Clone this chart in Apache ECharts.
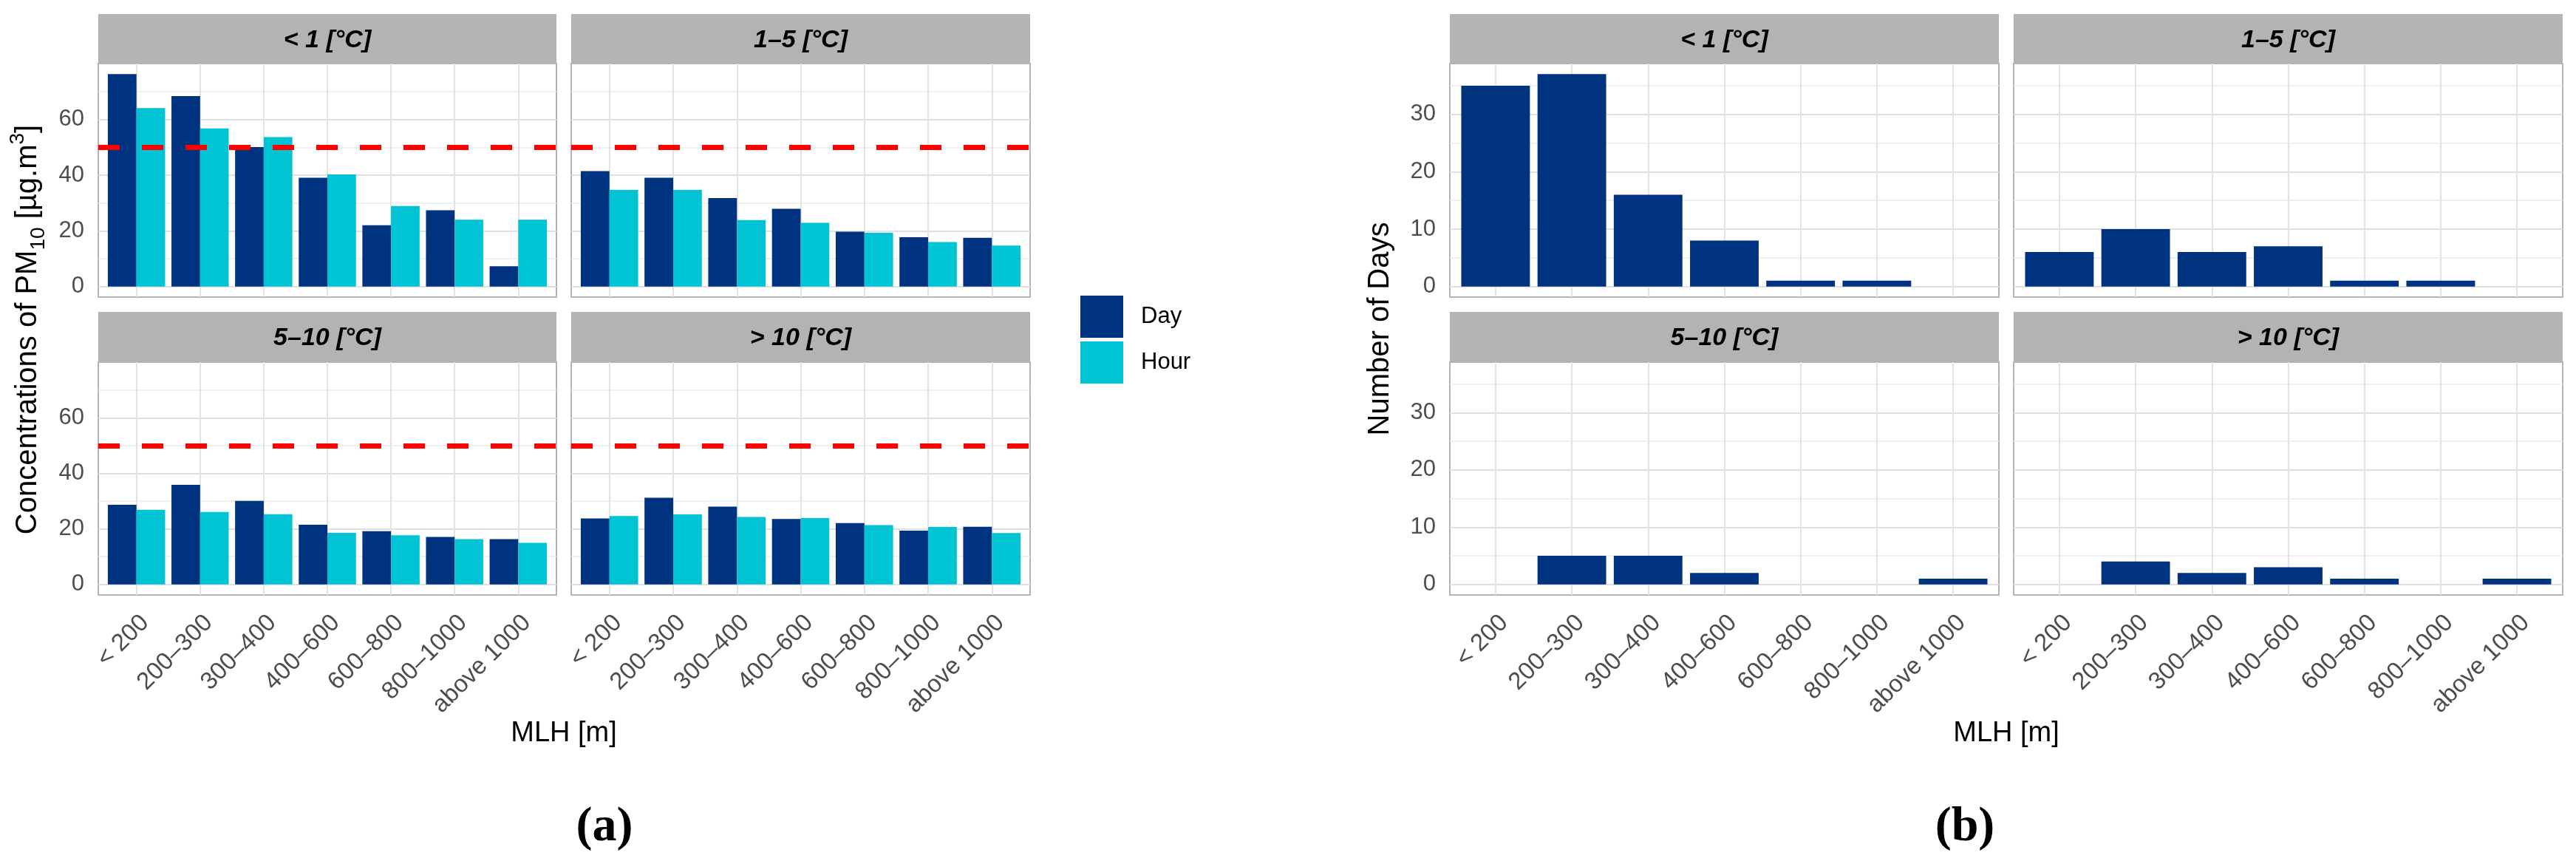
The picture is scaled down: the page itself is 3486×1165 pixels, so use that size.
<!DOCTYPE html>
<html><head><meta charset="utf-8">
<script src="https://cdn.jsdelivr.net/npm/echarts@6/dist/echarts.min.js"></script>
<style>html,body{margin:0;padding:0;background:#fff}#c{width:3486px;height:1165px}</style>
</head><body><div id="c"></div>
<script>
// ---------- data ----------
const mlhCategories = ['< 200', '200–300', '300–400', '400–600', '600–800', '800–1000', 'above 1000'];
const tempClasses = ['< 1 [°C]', '1–5 [°C]', '5–10 [°C]', '> 10 [°C]'];

// (a) PM10 concentrations [µg.m-3]
const pmDayLt1   = [76.3, 68.4, 50.1, 39.1, 22.0, 27.4, 7.3];
const pmHourLt1  = [64.1, 56.8, 53.7, 40.3, 28.9, 24.0, 24.0];
const pmDay1to5  = [41.5, 39.1, 31.8, 27.9, 19.7, 17.7, 17.5];
const pmHour1to5 = [34.7, 34.7, 23.9, 22.9, 19.3, 16.0, 14.7];
const pmDay5to10  = [28.7, 35.9, 30.1, 21.5, 19.2, 17.1, 16.3];
const pmHour5to10 = [26.9, 26.1, 25.3, 18.6, 17.7, 16.3, 15.0];
const pmDayGt10  = [23.8, 31.2, 28.0, 23.6, 22.1, 19.4, 20.8];
const pmHourGt10 = [24.6, 25.2, 24.3, 23.9, 21.4, 20.7, 18.5];
const pmLimit = 50;

// (b) number of days
const daysLt1   = [35, 37, 16, 8, 1, 1, 0];
const days1to5  = [6, 10, 6, 7, 1, 1, 0];
const days5to10 = [0, 5, 5, 2, 0, 0, 1];
const daysGt10  = [0, 4, 2, 3, 1, 0, 1];

// tick labels
const pmTicks = [0, 20, 40, 60];
const pmMinorTicks = [10, 30, 50, 70];
const dayTicks = [0, 10, 20, 30];
const dayMinorTicks = [5, 15, 25, 35];
const catIndex = [0, 1, 2, 3, 4, 5, 6];

// ---------- layout ----------
const colsA = [[133, 753], [773, 1394]];
const colsB = [[1962, 2705], [2725, 3468]];
const rows = [[19, 86, 402], [422, 490, 805]]; // stripTop, plotTop, plotBottom
const FONT = '"Liberation Sans", Arial, sans-serif';
const C_DAY = '#00337F', C_HOUR = '#00C4D3';
const pmRange = [-3.8, 80.1];
const dayRange = [-1.85, 38.85];

const grids = [], xAxes = [], yAxes = [], series = [], graphics = [];

function addPanel(col, row, panelIdx, yr, ticks, minor, isA, dayVals, hourVals) {
  const gi = grids.length;
  const [l, r] = col;
  const [st, pt, pb] = rows[row];
  grids.push({left: l, top: pt, width: r - l, height: pb - pt, show: true,
    borderColor: '#B3B3B3', borderWidth: 2, backgroundColor: '#fff',
    containLabel: false, outerBoundsMode: 'none'});
  xAxes.push({type: 'value', gridIndex: gi, min: -0.6, max: 6.6,
    axisLine: {show: false},
    axisTick: {show: false, customValues: catIndex},
    axisLabel: {show: row === 1, customValues: catIndex, rotate: 45,
      align: 'right', verticalAlign: 'top', margin: 21,
      fontSize: 33, color: '#4D4D4D', fontFamily: FONT,
      formatter: v => mlhCategories[Math.round(v)] || ''},
    splitLine: {show: true, lineStyle: {color: '#E3E3E3', width: 2}}});
  const yi = yAxes.length;
  yAxes.push({type: 'value', gridIndex: gi, min: yr[0], max: yr[1],
    axisLine: {show: false},
    axisTick: {show: false, customValues: ticks},
    axisLabel: {show: (col === colsA[0] || col === colsB[0]), customValues: ticks,
      fontSize: 31, color: '#4D4D4D', fontFamily: FONT, margin: 19},
    splitLine: {show: true, lineStyle: {color: '#E0E0E0', width: 2}}});
  yAxes.push({type: 'value', gridIndex: gi, min: yr[0], max: yr[1],
    axisLine: {show: false},
    axisTick: {show: false, customValues: minor},
    axisLabel: {show: false},
    splitLine: {show: true, lineStyle: {color: '#EBEBEB', width: 1.5}}});
  if (isA) {
    series.push({type: 'bar', name: 'Day', xAxisIndex: gi, yAxisIndex: yi,
      data: dayVals.map((v, k) => [k, v]), barWidth: '45%', barGap: '0%',
      itemStyle: {color: C_DAY}, z: 3,
      markLine: {silent: true, symbol: 'none', label: {show: false},
        lineStyle: {color: '#FF0000', width: 7, type: [29, 30]},
        data: [{yAxis: pmLimit}]}});
    series.push({type: 'bar', name: 'Hour', xAxisIndex: gi, yAxisIndex: yi,
      data: hourVals.map((v, k) => [k, v]), barWidth: '45%', barGap: '0%',
      itemStyle: {color: C_HOUR}, z: 3});
  } else {
    series.push({type: 'bar', name: 'Days count', xAxisIndex: gi, yAxisIndex: yi,
      data: dayVals.map((v, k) => [k, v]), barWidth: '90%',
      itemStyle: {color: C_DAY}, z: 3});
  }
  graphics.push({type: 'rect', silent: true, shape: {x: l, y: st, width: r - l, height: pt - st},
    style: {fill: '#B3B3B3'}});
  graphics.push({type: 'text', silent: true, x: (l + r) / 2, y: (st + pt) / 2 + 2,
    style: {text: tempClasses[panelIdx], fontSize: 34, fontWeight: 'bold', fontStyle: 'italic',
      fontFamily: FONT, fill: '#000', align: 'center', verticalAlign: 'middle',
      textAlign: 'center', textVerticalAlign: 'middle'}});
}

addPanel(colsA[0], 0, 0, pmRange, pmTicks, pmMinorTicks, true, pmDayLt1, pmHourLt1);
addPanel(colsA[1], 0, 1, pmRange, pmTicks, pmMinorTicks, true, pmDay1to5, pmHour1to5);
addPanel(colsA[0], 1, 2, pmRange, pmTicks, pmMinorTicks, true, pmDay5to10, pmHour5to10);
addPanel(colsA[1], 1, 3, pmRange, pmTicks, pmMinorTicks, true, pmDayGt10, pmHourGt10);
addPanel(colsB[0], 0, 0, dayRange, dayTicks, dayMinorTicks, false, daysLt1);
addPanel(colsB[1], 0, 1, dayRange, dayTicks, dayMinorTicks, false, days1to5);
addPanel(colsB[0], 1, 2, dayRange, dayTicks, dayMinorTicks, false, days5to10);
addPanel(colsB[1], 1, 3, dayRange, dayTicks, dayMinorTicks, false, daysGt10);

function txt(x, y, text, opts, rot) {
  const el = {type: 'text', silent: true, x: x, y: y,
    style: Object.assign({text: text, fontFamily: FONT, fill: '#000', align: 'center',
      verticalAlign: 'middle', textAlign: 'center', textVerticalAlign: 'middle'}, opts)};
  if (rot) el.rotation = rot;
  graphics.push(el);
}
txt(38, 446, 'Concentrations of PM{sub|10} [µg.m{sup|3}]', {fontSize: 40, lineHeight: 56,
  rich: {sub: {fontSize: 28, lineHeight: 40, verticalAlign: 'bottom', fontFamily: FONT, fill: '#000'},
         sup: {fontSize: 28, lineHeight: 28, verticalAlign: 'top', fontFamily: FONT, fill: '#000'}}}, Math.PI / 2);
txt(1868, 445, 'Number of Days', {fontSize: 40}, Math.PI / 2);
txt(763, 993, 'MLH [m]', {fontSize: 38});
txt(2715, 993, 'MLH [m]', {fontSize: 38});
txt(818, 1120, '(a)', {fontSize: 66, fontWeight: 'bold', fontFamily: '"Liberation Serif", "DejaVu Serif", serif'});
txt(2659, 1120, '(b)', {fontSize: 66, fontWeight: 'bold', fontFamily: '"Liberation Serif", "DejaVu Serif", serif'});

const chart = echarts.init(document.getElementById('c'), null, {renderer: 'canvas'});
chart.setOption({
  animation: false,
  backgroundColor: '#ffffff',
  textStyle: {fontFamily: FONT},
  legend: {data: ['Day', 'Hour'], orient: 'vertical', left: 1457, top: 395,
    itemWidth: 58, itemHeight: 57, itemGap: 5, icon: 'rect', selectedMode: false,
    textStyle: {fontSize: 31, color: '#000', fontFamily: FONT, padding: [0, 0, 0, 19]}},
  grid: grids, xAxis: xAxes, yAxis: yAxes, series: series, graphic: graphics
});
</script></body></html>
